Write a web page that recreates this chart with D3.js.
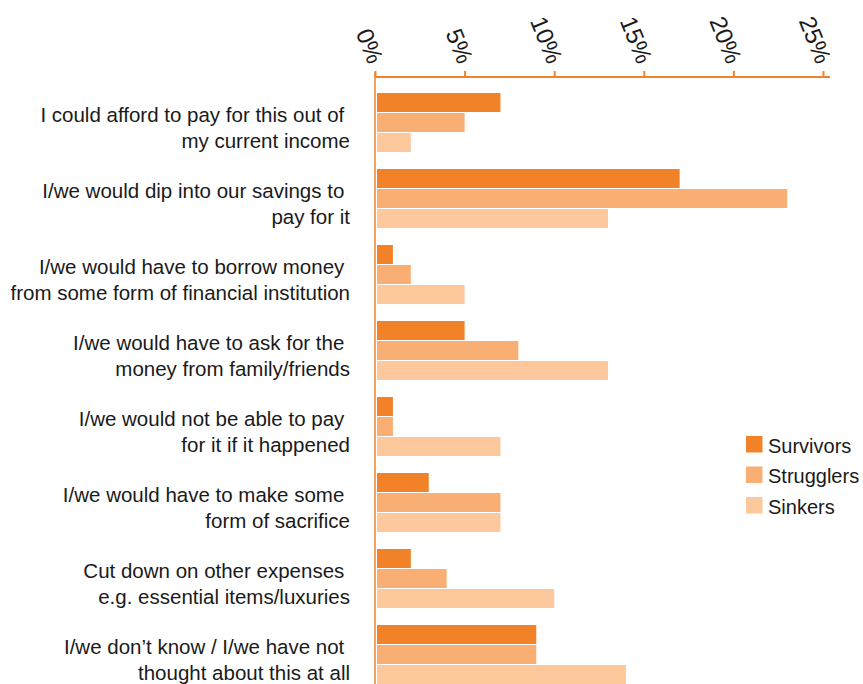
<!DOCTYPE html>
<html>
<head>
<meta charset="utf-8">
<script src="https://cdn.jsdelivr.net/npm/d3@7"></script>
<style>
  html, body { margin: 0; padding: 0; background: #fff; }
  svg { display: block; font-family: "Liberation Sans", Arial, Helvetica, sans-serif; }
  text { white-space: pre; }
</style>
</head>
<body>
<svg id="chart" width="863" height="684"></svg>
<script>
const categories = [
  ["I could afford to pay for this out of ", "my current income"],
  ["I/we would dip into our savings to ", "pay for it"],
  ["I/we would have to borrow money ", "from some form of financial institution"],
  ["I/we would have to ask for the ", "money from family/friends"],
  ["I/we would not be able to pay ", "for it if it happened"],
  ["I/we would have to make some ", "form of sacrifice"],
  ["Cut down on other expenses ", "e.g. essential items/luxuries"],
  ["I/we don\u2019t know / I/we have not ", "thought about this at all"]
];
const seriesNames = ["Survivors", "Strugglers", "Sinkers"];
const survivors  = [7, 17, 1, 5, 1, 3, 2, 9];
const strugglers = [5, 23, 2, 8, 1, 7, 4, 9];
const sinkers    = [2, 13, 5, 13, 7, 7, 10, 14];
const tickValues = [0, 5, 10, 15, 20, 25];
const colors = ["#f28228", "#f9af74", "#fdc99c"];

const seriesValues = [survivors, strugglers, sinkers];
const rows = categories.map((c, i) => ({
  idx: i,
  lines: c,
  values: seriesNames.map((s, j) => ({ series: s, j, value: seriesValues[j][i] }))
}));

const svg = d3.select("#chart");
const axisColor = "#f28228";

const x = d3.scaleLinear().domain([0, 25]).range([375, 823]);
const y = d3.scaleBand().domain(d3.range(categories.length)).range([93, 684]).paddingInner(17 / 76).paddingOuter(0);
const ySub = d3.scaleBand().domain(seriesNames).range([0, y.bandwidth()]).paddingInner(0.05);
const color = d3.scaleOrdinal().domain(seriesNames).range(colors);

// bars
const groups = svg.append("g").selectAll("g.group").data(rows).join("g")
  .attr("class", "group")
  .attr("transform", d => `translate(0,${y(d.idx)})`);
groups.selectAll("rect").data(d => d.values).join("rect")
  .attr("x", x(0) + 2)
  .attr("y", d => ySub(d.series))
  .attr("width", d => x(d.value) - x(0) - 2)
  .attr("height", ySub.bandwidth())
  .attr("fill", d => color(d.series));

// category labels
groups.each(function(d) {
  const g = d3.select(this);
  g.selectAll("text.lbl").data(d.lines).join("text")
    .attr("class", "lbl")
    .attr("x", 350)
    .attr("y", (t, k) => 29 + k * 26)
    .attr("text-anchor", "end")
    .attr("font-size", 20.5)
    .attr("fill", "#1a1a1a")
    .text(t => t);
});

// vertical axis line
svg.append("line")
  .attr("x1", x(0)).attr("x2", x(0))
  .attr("y1", 72).attr("y2", 684)
  .attr("stroke", axisColor).attr("stroke-width", 1.5);

// top axis
const axisY = 77;
const axis = d3.axisTop(x).tickValues(tickValues).tickSize(6).tickSizeOuter(0)
  .tickFormat(d => d + "%");
const ag = svg.append("g").attr("transform", `translate(0,${axisY})`).call(axis);
ag.select(".domain").attr("d", `M${x(0)},0H830`).attr("stroke", axisColor).attr("stroke-width", 2);
ag.selectAll(".tick line").attr("stroke", axisColor).attr("stroke-width", 2);
ag.selectAll(".tick text")
  .attr("x", 0).attr("y", 0).attr("dy", null)
  .attr("transform", "translate(1,-15) rotate(68)")
  .attr("text-anchor", "end")
  .attr("dominant-baseline", "central")
  .attr("font-size", 24)
  .attr("font-family", "\"Liberation Sans\", Arial, sans-serif")
  .attr("fill", "#1a1a1a");

// legend
const legend = svg.append("g").attr("transform", "translate(746,436)");
const li = legend.selectAll("g").data(seriesNames).join("g")
  .attr("transform", (d, i) => `translate(0,${i * 30.5})`);
li.append("rect").attr("width", 16.5).attr("height", 16.5).attr("fill", d => color(d));
li.append("text").attr("x", 22).attr("y", 16.5)
  .attr("font-size", 20).attr("fill", "#1a1a1a").text(d => d);
</script>
</body>
</html>
